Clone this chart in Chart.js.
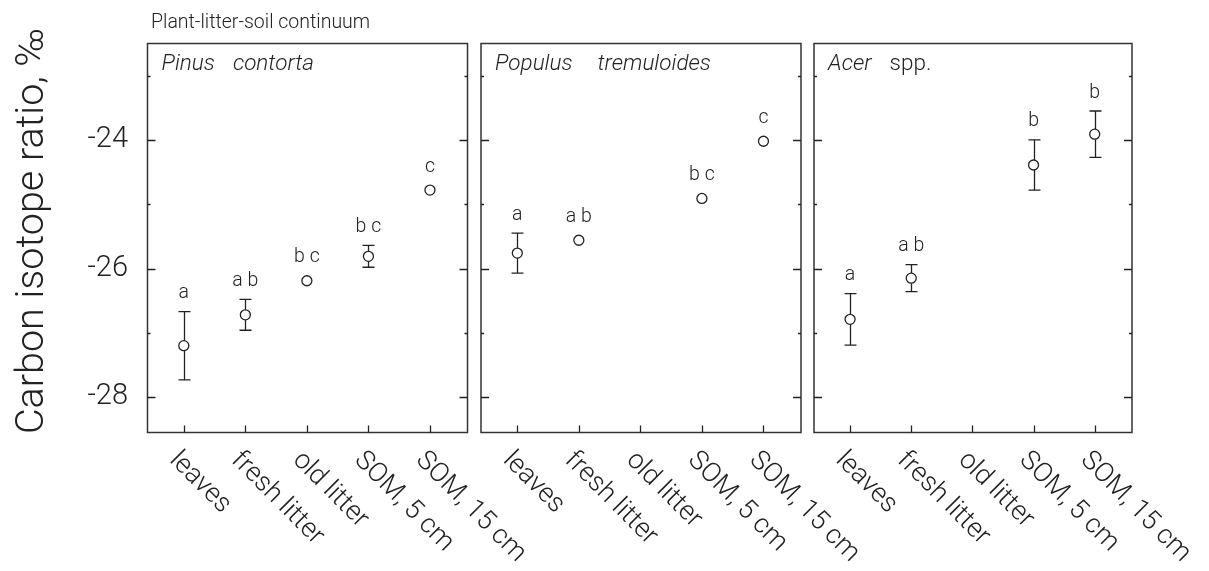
<!DOCTYPE html>
<html>
<head>
<meta charset="utf-8">
<script src="https://cdn.jsdelivr.net/npm/chart.js@4/dist/chart.umd.min.js"></script>
<style>
html,body{margin:0;padding:0;background:#fff;overflow:hidden;width:1209px;height:571px}
canvas{position:absolute;left:0;top:0}
</style>
</head>
<body>
<canvas id="c0" width="1209" height="571"></canvas>
<canvas id="c1" width="1209" height="571"></canvas>
<canvas id="c2" width="1209" height="571"></canvas>
<script>
// ---- data ----
const categories = ['leaves', 'fresh litter', 'old litter', 'SOM, 5 cm', 'SOM, 15 cm'];

const pinusMean    = [-27.20, -26.72, -26.19, -25.81, -24.78];
const pinusErr     = [0.53, 0.24, null, 0.17, null];
const pinusLetters = ['a', 'a b', 'b c', 'b c', 'c'];

const populusMean    = [-25.76, -25.56, null, -24.91, -24.02];
const populusErr     = [0.31, null, null, null, null];
const populusLetters = ['a', 'a b', '', 'b c', 'c'];

const acerMean    = [-26.79, -26.15, null, -24.39, -23.91];
const acerErr     = [0.40, 0.21, null, 0.39, 0.36];
const acerLetters = ['a', 'a b', '', 'b', 'b'];

const yTickLabels = [-24, -26, -28];
const yMinorTicks = [-23, -25, -27];

const chartTitle = 'Plant-litter-soil continuum';
const yTitle = 'Carbon isotope ratio, \u2030';

// ---- layout / style ----
const W = 1209, H = 571;
const FAM = 'Roboto, "Liberation Sans", Arial, sans-serif';
const f = (size, italic) => (italic ? 'italic ' : '') + '300 ' + size + 'px ' + FAM;
const INK = '#222';
const panels = [
  {left: 147.5, right: 467.5, mean: pinusMean, err: pinusErr, letters: pinusLetters,
   title: [['Pinus', true], ['contorta', true]], gap: 18},
  {left: 481, right: 801, mean: populusMean, err: populusErr, letters: populusLetters,
   title: [['Populus', true], ['tremuloides', true]], gap: 25},
  {left: 814, right: 1132, mean: acerMean, err: acerErr, letters: acerLetters,
   title: [['Acer', true], ['spp.', false]], gap: 18}
];
const TOP = 43.5, BOTTOM = 432.5;

function panelPlugin(pi) {
  const p = panels[pi];
  return {
    id: 'panel' + pi,
    beforeDatasetsDraw(chart) {
      const ctx = chart.ctx, xs = chart.scales.x, ys = chart.scales.y;
      const a = chart.chartArea;
      ctx.save();
      ctx.strokeStyle = '#333';
      ctx.lineWidth = 1.5;
      ctx.strokeRect(a.left, a.top, a.right - a.left, a.bottom - a.top);
      ctx.lineWidth = 1.3;
      ctx.strokeStyle = INK;
      yTickLabels.forEach(v => {
        const y = Math.round(ys.getPixelForValue(v)) + 0.5;
        ctx.beginPath();
        ctx.moveTo(a.left, y); ctx.lineTo(a.left + 8, y);
        ctx.moveTo(a.right, y); ctx.lineTo(a.right - 8, y);
        ctx.stroke();
      });
      yMinorTicks.forEach(v => {
        const y = Math.round(ys.getPixelForValue(v)) + 0.5;
        ctx.beginPath();
        ctx.moveTo(a.left, y); ctx.lineTo(a.left + 3, y);
        ctx.moveTo(a.right, y); ctx.lineTo(a.right - 3, y);
        ctx.stroke();
      });
      categories.forEach((c, k) => {
        const x = Math.round(xs.getPixelForValue(k)) + 0.5;
        ctx.beginPath();
        ctx.moveTo(x, a.bottom); ctx.lineTo(x, a.bottom - 7);
        ctx.stroke();
      });
      const R = 5;
      p.mean.forEach((m, k) => {
        const e = p.err[k];
        if (m === null || e === null) return;
        const x = Math.round(xs.getPixelForValue(k)) + 0.5;
        const yc = ys.getPixelForValue(m);
        const yt = ys.getPixelForValue(m + e);
        const yb = ys.getPixelForValue(m - e);
        ctx.beginPath();
        if (yc - R > yt) { ctx.moveTo(x, yt); ctx.lineTo(x, yc - R); }
        if (yc + R < yb) { ctx.moveTo(x, yc + R); ctx.lineTo(x, yb); }
        ctx.moveTo(x - 6, yt); ctx.lineTo(x + 6, yt);
        ctx.moveTo(x - 6, yb); ctx.lineTo(x + 6, yb);
        ctx.stroke();
      });
      ctx.restore();
    },
    afterDatasetsDraw(chart) {
      const ctx = chart.ctx, xs = chart.scales.x, ys = chart.scales.y;
      const a = chart.chartArea;
      ctx.save();
      ctx.fillStyle = INK;
      // significance letters
      ctx.font = f(19.5);
      ctx.textAlign = 'center';
      ctx.textBaseline = 'alphabetic';
      p.mean.forEach((m, k) => {
        if (m === null || !p.letters[k]) return;
        const e = p.err[k];
        let top = ys.getPixelForValue(m) - 5;
        if (e !== null) top = Math.min(top, ys.getPixelForValue(m + e));
        ctx.fillText(p.letters[k], xs.getPixelForValue(k), top - 13.5);
      });
      // panel title
      let tx = a.left + 14;
      ctx.textAlign = 'left';
      p.title.forEach(w => {
        ctx.font = f(22.5, w[1]);
        ctx.fillText(w[0], tx, 70);
        tx += ctx.measureText(w[0]).width + p.gap;
      });
      // x labels, rotated 45deg
      ctx.font = f(27);
      categories.forEach((c, k) => {
        const x = xs.getPixelForValue(k);
        ctx.save();
        ctx.translate(x - 15, 461);
        ctx.rotate(Math.PI / 4);
        ctx.textAlign = 'left';
        ctx.textBaseline = 'alphabetic';
        ctx.fillText(c, 0, 0);
        ctx.restore();
      });
      if (pi === 0) {
        ctx.font = f(29);
        ctx.textAlign = 'right';
        ctx.textBaseline = 'middle';
        yTickLabels.forEach(v => {
          ctx.fillText(String(v), 128, ys.getPixelForValue(v));
        });
        ctx.save();
        ctx.font = f(39.5);
        ctx.translate(43, 231);
        ctx.rotate(-Math.PI / 2);
        ctx.textAlign = 'center';
        ctx.textBaseline = 'alphabetic';
        ctx.fillText(yTitle, 0, 0);
        ctx.restore();
        ctx.font = f(19.5);
        ctx.textAlign = 'left';
        ctx.textBaseline = 'alphabetic';
        ctx.fillText(chartTitle, 151, 27.5);
      }
      ctx.restore();
    }
  };
}

panels.forEach((p, pi) => {
  const pts = p.mean.map((v, k) => ({x: k, y: v})).filter(d => d.y !== null);
  new Chart(document.getElementById('c' + pi).getContext('2d'), {
    type: 'scatter',
    data: {
      datasets: [{
        data: pts,
        pointStyle: 'circle',
        pointRadius: 5,
        pointBackgroundColor: '#fff',
        pointBorderColor: INK,
        pointBorderWidth: 1.3,
        showLine: false
      }]
    },
    options: {
      responsive: false,
      animation: false,
      devicePixelRatio: 1,
      events: [],
      layout: {padding: {left: p.left, right: W - p.right, top: TOP, bottom: H - BOTTOM}},
      scales: {
        x: {type: 'linear', min: -0.59, max: 4.61, display: false},
        y: {type: 'linear', min: -28.55, max: -22.5, display: false}
      },
      plugins: {legend: {display: false}, tooltip: {enabled: false}},
      clip: false
    },
    plugins: [panelPlugin(pi)]
  });
});
</script>
</body>
</html>
